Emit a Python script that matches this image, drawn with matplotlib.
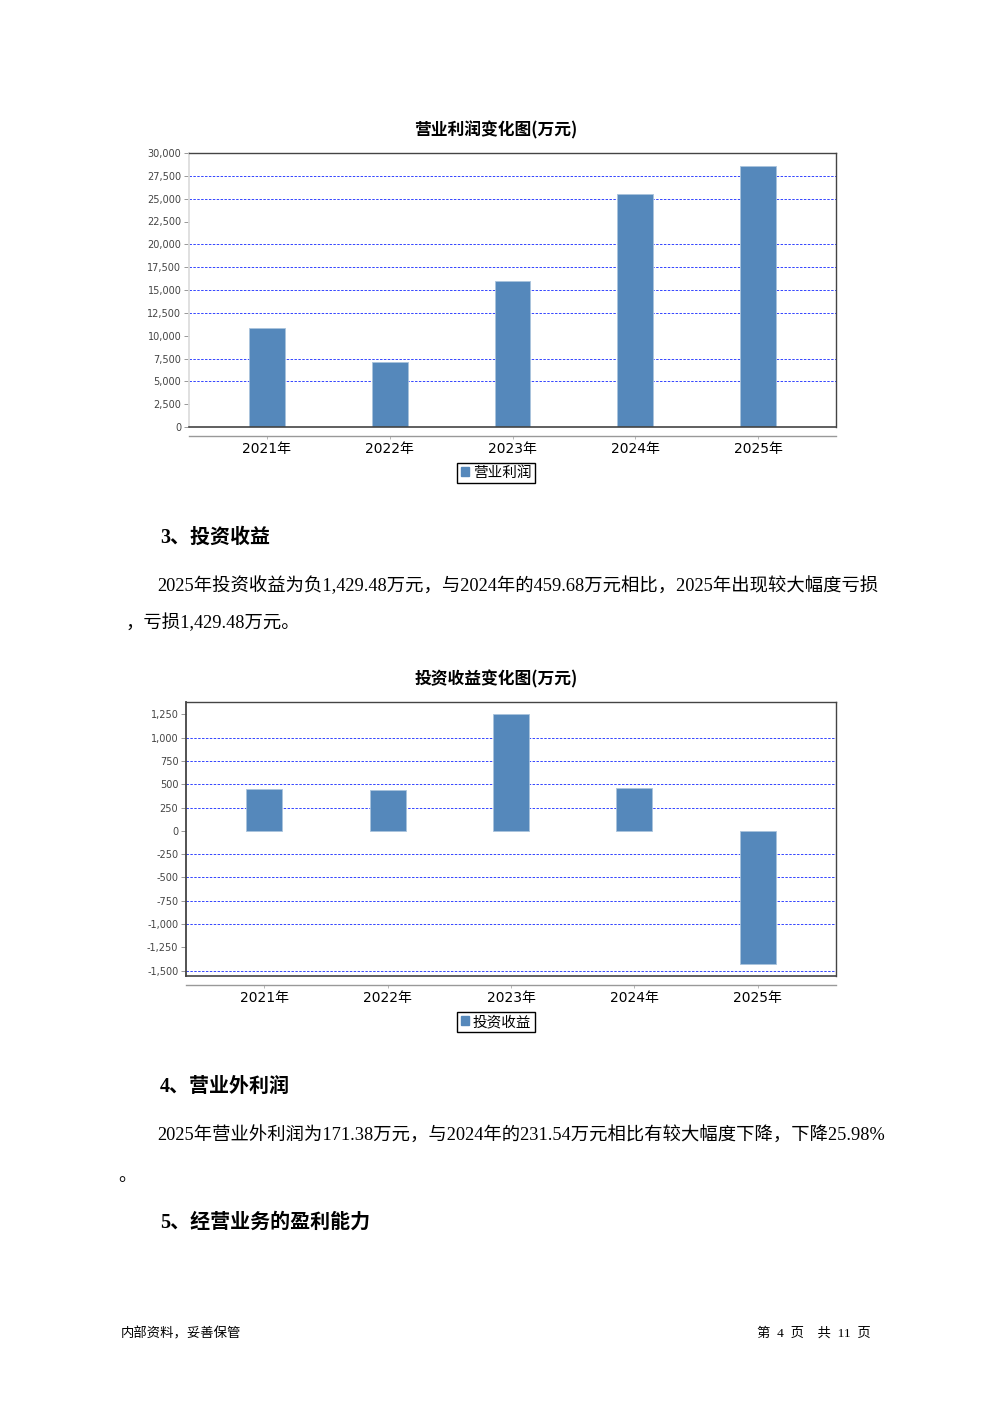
import matplotlib
matplotlib.use("Agg")
import matplotlib.pyplot as plt
from matplotlib.patches import Patch
from matplotlib.ticker import FuncFormatter

years = ["2021年", "2022年", "2023年", "2024年", "2025年"]
op_profit = [10840, 7120, 15990, 25510, 28580]
inv_income = [447, 440, 1252, 459.68, -1429.48]

op_ticks = list(range(0, 30001, 2500))
op_grid = [5000, 7500, 12500, 15000, 17500, 20000, 25000, 27500]
inv_ticks = list(range(-1500, 1251, 250))
inv_grid = [-1500, -1000, -750, -500, -250, 250, 500, 750, 1000]

W, H = 992, 1403
BAR = "#5588bb"
FRAME = "#444444"
CJK = ["Noto Sans CJK SC", "DejaVu Sans"]
SERIF = ["Liberation Serif", "Noto Sans CJK SC"]
TICKF = ["DejaVu Sans", "Noto Sans CJK SC"]
plt.rcParams["font.family"] = TICKF

fig = plt.figure(figsize=(W / 100, H / 100), dpi=100)
fig.patch.set_facecolor("white")


def px_axes(left, top, right, bottom):
    return fig.add_axes([left / W, 1 - bottom / H, (right - left) / W, (bottom - top) / H])


def draw_chart(ax, values, ticks, grid, ylim, title, series, left_color, title_y, legend_y):
    x = list(range(len(years)))
    ax.bar(x, values, width=0.29, color=BAR, edgecolor="#a9c3dd", linewidth=0.6, zorder=3)
    for g in grid:
        ax.axhline(g, color="#3344ff", linestyle=(0, (2.5, 1.5)), linewidth=0.7, zorder=1)
    ax.set_xlim(-0.635, 4.635)
    ax.set_ylim(*ylim)
    ax.set_yticks(ticks)
    ax.yaxis.set_major_formatter(FuncFormatter(lambda v, p: f"{int(v):,}"))
    ax.set_xticks(x)
    ax.set_xticklabels(years, fontfamily=TICKF, fontsize=7.8, color="#3a3a3a")
    ax.tick_params(axis="y", length=3.5, width=0.6, color="#888888", pad=2,
                   labelsize=7, labelcolor="#444444")
    ax.tick_params(axis="x", length=2, width=0.6, color="#aaaaaa", pad=2.5)
    for s in ["top", "right"]:
        ax.spines[s].set_color(FRAME)
        ax.spines[s].set_linewidth(1.0)
    ax.spines["left"].set_color(left_color)
    ax.spines["left"].set_linewidth(1.3)
    ax.spines["bottom"].set_position(("outward", 6.5))
    ax.spines["bottom"].set_color("#999999")
    ax.spines["bottom"].set_linewidth(1.0)
    ax.plot([0, 1], [0, 0], transform=ax.transAxes, color=FRAME, linewidth=1.2, clip_on=False, zorder=5)
    fig.text(496 / W, 1 - title_y / H, title, ha="center", va="center",
             fontsize=12.1, fontweight="bold", family=CJK)
    leg = fig.legend(handles=[Patch(facecolor=BAR, edgecolor=BAR)], labels=[series],
                     loc="center", bbox_to_anchor=(496 / W, 1 - legend_y / H),
                     prop={"family": CJK, "size": 10.5}, fancybox=False, framealpha=1,
                     handlelength=0.55, handleheight=0.55, handletextpad=0.3,
                     borderpad=0.22, borderaxespad=0)
    leg.get_frame().set_edgecolor("black")
    leg.get_frame().set_linewidth(1.0)


ax1 = px_axes(189, 153, 836, 427)
draw_chart(ax1, op_profit, op_ticks, op_grid, (0, 30000), "营业利润变化图(万元)", "营业利润",
           "#dddddd", 130, 473)

ax2 = px_axes(186, 702, 836, 976)
draw_chart(ax2, inv_income, inv_ticks, inv_grid, (-1559, 1384), "投资收益变化图(万元)", "投资收益",
           FRAME, 679, 1022)


def put(xp, yp, s, size=13.2, weight="normal", ha="left", family=SERIF):
    fig.text(xp / W, 1 - yp / H, s, ha=ha, va="center", fontsize=size,
             fontweight=weight, family=family)


put(160, 538, "3、投资收益", size=14.4, weight="bold")
put(157, 586, "2025年投资收益为负1,429.48万元，与2024年的459.68万元相比，2025年出现较大幅度亏损")
put(125, 623, "，亏损1,429.48万元。")
put(160, 1087, "4、营业外利润", size=14.4, weight="bold")
put(157, 1136, "2025年营业外利润为171.38万元，与2024年的231.54万元相比有较大幅度下降，下降25.98%")
put(118, 1176, "。")
put(160, 1223, "5、经营业务的盈利能力", size=14.4, weight="bold")
put(121, 1333, "内部资料，妥善保管", size=9.6, family=CJK)
put(871, 1333, "第  4  页    共  11  页", size=9.6, ha="right", family=SERIF)

fig.savefig("out.png", dpi=100, facecolor="white")
